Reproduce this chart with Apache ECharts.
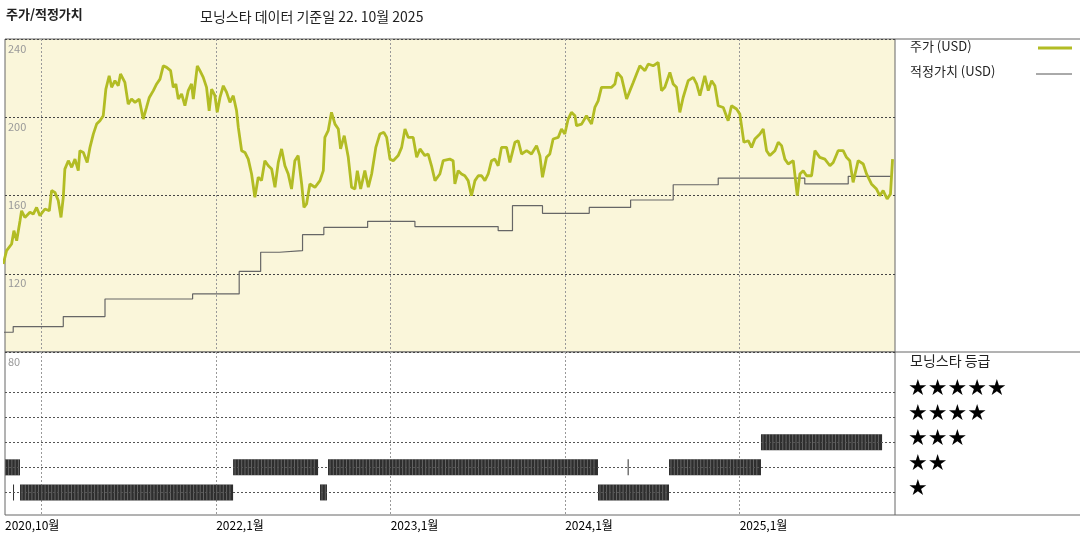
<!DOCTYPE html>
<html>
<head>
<meta charset="utf-8">
<script src="https://cdn.jsdelivr.net/npm/echarts@6/dist/echarts.min.js"></script>
<style>
	html, body { margin: 0; padding: 0; background: #fff; }
	#chart { width: 1080px; height: 540px; }
</style>
</head>
<body>
<div id="chart"></div>
<script>
// dates are decimal years
const xMin = 2020.79;
const xMax = 2025.89;
const yearTicks = [2021, 2022, 2023, 2024, 2025];
const yearLabels = [2020.79, 2021, 2022, 2023, 2024, 2025];

const price = [
	[2020.780,125.0],[2020.799,131.8],[2020.828,135.2],[2020.841,142.0],[2020.857,136.9],[2020.876,147.1],
	[2020.885,152.2],[2020.904,148.8],[2020.933,151.4],[2020.952,150.5],[2020.971,153.9],[2020.990,149.7],
	[2021.019,153.1],[2021.044,152.2],[2021.057,162.5],[2021.076,161.6],[2021.095,157.4],[2021.111,148.8],
	[2021.124,159.1],[2021.133,173.5],[2021.153,177.8],[2021.172,174.4],[2021.191,178.6],[2021.210,172.7],
	[2021.219,182.9],[2021.239,182.0],[2021.261,176.9],[2021.277,184.6],[2021.296,191.4],[2021.315,196.5],
	[2021.334,198.2],[2021.353,200.8],[2021.368,214.4],[2021.387,221.2],[2021.401,215.3],[2021.420,218.7],
	[2021.439,216.1],[2021.452,222.1],[2021.477,217.8],[2021.496,206.7],[2021.515,209.3],[2021.535,207.6],
	[2021.559,209.3],[2021.582,199.1],[2021.601,205.0],[2021.617,210.1],[2021.640,213.6],[2021.659,217.0],
	[2021.678,219.5],[2021.697,226.3],[2021.716,225.5],[2021.739,223.8],[2021.754,215.3],[2021.769,217.0],
	[2021.783,209.3],[2021.802,211.9],[2021.821,205.9],[2021.840,213.6],[2021.859,217.0],[2021.869,209.3],
	[2021.892,226.3],[2021.907,223.8],[2021.926,220.4],[2021.945,215.3],[2021.960,203.3],[2021.974,214.4],
	[2021.993,211.0],[2022.006,202.5],[2022.022,210.1],[2022.041,216.1],[2022.060,212.7],[2022.079,207.6],
	[2022.098,211.0],[2022.117,203.3],[2022.127,194.8],[2022.146,182.9],[2022.165,182.0],[2022.184,178.6],
	[2022.203,171.0],[2022.222,159.1],[2022.241,169.3],[2022.260,167.6],[2022.279,177.8],[2022.299,175.2],
	[2022.318,173.5],[2022.337,164.2],[2022.356,176.9],[2022.375,183.8],[2022.394,175.2],[2022.413,171.0],
	[2022.432,163.3],[2022.451,177.8],[2022.470,180.4],[2022.490,165.9],[2022.503,153.9],[2022.518,155.7],
	[2022.537,165.9],[2022.566,164.2],[2022.595,167.6],[2022.614,172.7],[2022.623,189.7],[2022.642,193.1],
	[2022.661,202.5],[2022.681,196.5],[2022.700,194.0],[2022.713,183.8],[2022.734,190.6],[2022.757,179.5],
	[2022.776,164.2],[2022.795,163.3],[2022.809,172.7],[2022.828,163.3],[2022.852,172.7],[2022.872,164.2],
	[2022.891,171.0],[2022.915,184.6],[2022.938,191.4],[2022.961,192.3],[2022.977,189.7],[2022.996,178.6],
	[2023.015,177.8],[2023.043,180.4],[2023.063,184.6],[2023.082,194.0],[2023.101,189.7],[2023.129,189.7],
	[2023.149,179.5],[2023.168,183.8],[2023.196,180.4],[2023.215,181.2],[2023.234,175.2],[2023.254,167.6],
	[2023.282,171.0],[2023.301,177.8],[2023.339,178.6],[2023.358,177.8],[2023.368,165.9],[2023.387,172.7],
	[2023.406,171.0],[2023.425,170.1],[2023.444,167.6],[2023.463,159.9],[2023.483,167.6],[2023.502,170.1],
	[2023.521,170.1],[2023.540,167.6],[2023.559,171.0],[2023.578,177.8],[2023.597,178.6],[2023.616,175.2],
	[2023.635,184.6],[2023.664,184.6],[2023.683,176.9],[2023.712,187.2],[2023.731,188.0],[2023.750,181.2],
	[2023.779,182.9],[2023.807,181.2],[2023.836,185.5],[2023.855,180.4],[2023.870,169.3],[2023.893,179.5],
	[2023.912,181.2],[2023.931,188.9],[2023.960,189.7],[2023.979,194.0],[2023.998,191.4],[2024.017,199.1],
	[2024.036,202.5],[2024.056,200.8],[2024.065,195.7],[2024.094,196.5],[2024.122,200.8],[2024.151,196.5],
	[2024.170,205.0],[2024.189,208.4],[2024.208,215.3],[2024.237,215.3],[2024.266,215.3],[2024.285,217.0],
	[2024.298,222.9],[2024.323,220.4],[2024.352,209.3],[2024.371,213.6],[2024.390,217.8],[2024.409,222.1],
	[2024.428,226.3],[2024.457,223.8],[2024.476,227.2],[2024.504,226.3],[2024.533,228.0],[2024.552,213.6],
	[2024.571,215.3],[2024.600,222.9],[2024.619,217.0],[2024.638,215.3],[2024.657,202.5],[2024.676,210.1],
	[2024.705,218.7],[2024.734,220.4],[2024.753,217.0],[2024.772,211.0],[2024.800,221.2],[2024.820,213.6],
	[2024.839,218.7],[2024.858,216.1],[2024.877,205.9],[2024.906,205.0],[2024.934,198.2],[2024.953,205.9],
	[2024.982,204.2],[2025.001,201.6],[2025.024,187.2],[2025.049,188.0],[2025.068,184.6],[2025.087,188.9],
	[2025.116,191.4],[2025.135,194.0],[2025.154,182.9],[2025.173,180.4],[2025.202,182.9],[2025.221,187.2],
	[2025.240,185.5],[2025.259,178.6],[2025.278,176.1],[2025.307,177.8],[2025.330,159.9],[2025.345,171.0],
	[2025.364,172.7],[2025.383,170.1],[2025.412,170.1],[2025.431,182.9],[2025.459,179.5],[2025.488,178.6],
	[2025.517,175.2],[2025.536,176.9],[2025.564,182.9],[2025.593,182.9],[2025.612,179.5],[2025.631,177.8],
	[2025.650,166.7],[2025.679,177.8],[2025.708,176.1],[2025.727,171.0],[2025.755,165.9],[2025.784,163.3],
	[2025.803,159.9],[2025.822,162.5],[2025.845,158.2],[2025.864,160.8],[2025.876,178.6]
];

// each point is the start of a fair value level
const fairValue = [
	[2020.761,90.1],[2020.837,93.0],[2021.124,98.1],[2021.363,107.1],[2021.865,109.7],[2022.132,121.2],
	[2022.255,131.0],[2022.362,131.8],[2022.495,140.0],[2022.617,143.7],[2022.868,146.8],[2023.139,144.1],
	[2023.616,142.0],[2023.698,154.8],[2023.870,150.9],[2024.138,153.9],[2024.375,157.7],[2024.619,165.5],
	[2024.877,168.9],[2025.373,165.9],[2025.622,169.8],[2025.870,169.8]
];

// [start, end, stars]
const ratings = [
	[2020.780,2020.876,2],[2020.836,2020.840,1],[2020.876,2022.097,1],[2022.097,2022.584,2],
	[2022.595,2022.635,1],[2022.641,2024.188,2],[2024.358,2024.362,2],[2024.188,2024.595,1],
	[2024.595,2025.122,2],[2025.122,2025.816,3]
];

const starLabels = ['★★★★★', '★★★★', '★★★', '★★', '★'];

const FONT = '"Noto Sans CJK KR", "Noto Sans", sans-serif';
const LEFT = 5, RIGHT = 895, TOP = 39, MID = 352, BOTTOM = 515;

const chart = echarts.init(document.getElementById('chart'), null, { renderer: 'canvas' });

const renderRating = function (params, api) {
	const p0 = api.coord([api.value(0), api.value(2)]);
	const p1 = api.coord([api.value(1), api.value(2)]);
	const w = Math.max(1, p1[0] - p0[0]);
	const h = 16;
	const children = [{
		type: 'rect',
		shape: { x: p0[0], y: p0[1] - h / 2, width: w, height: h },
		style: { fill: '#2e2e2e' }
	}];
	// light vertical streaks of the barcode look
	for (let x = p0[0] + 2; x < p0[0] + w - 1; x += 3.3) {
		children.push({
			type: 'line',
			shape: { x1: x, y1: p0[1] - h / 2, x2: x, y2: p0[1] + h / 2 },
			style: { stroke: 'rgba(200,200,200,0.6)', lineWidth: 0.6 }
		});
	}
	return { type: 'group', children: children };
};

const xAxisBase = {
	type: 'value',
	min: xMin,
	max: xMax,
	axisLine: { show: false },
	axisTick: { show: false, customValues: yearTicks },
	splitLine: { show: true, lineStyle: { color: '#999', type: [2, 2], width: 1 } }
};

const option = {
	animation: false,
	textStyle: { fontFamily: FONT },
	grid: [
		{ left: LEFT, width: RIGHT - LEFT, top: TOP, height: MID - TOP, show: true, backgroundColor: '#faf6da', borderColor: '#666', borderWidth: 1 },
		{ left: LEFT, width: RIGHT - LEFT, top: MID, height: BOTTOM - MID, show: true, backgroundColor: '#fff', borderColor: '#666', borderWidth: 1 }
	],
	xAxis: [
		Object.assign({}, xAxisBase, { gridIndex: 0, axisLabel: { show: false } }),
		Object.assign({}, xAxisBase, {
			gridIndex: 1,
			axisLabel: {
				show: true, customValues: yearLabels, align: 'left', margin: 4,
				showMinLabel: true, showMaxLabel: true, hideOverlap: false,
				color: '#000', fontSize: 12, fontFamily: FONT,
				formatter: v => v < 2021 ? '2020,10월' : Math.round(v) + ',1월'
			}
		})
	],
	yAxis: [
		{
			type: 'value', gridIndex: 0, min: 80, max: 240, interval: 40,
			axisLine: { show: false }, axisTick: { show: false },
			axisLabel: { inside: true, verticalAlign: 'top', margin: 3, color: '#999', fontSize: 11, padding: [4, 0, 0, 0] },
			splitLine: { lineStyle: { color: '#444', type: [2, 2] } }
		},
		{
			type: 'value', gridIndex: 1, min: 0.1, max: 6.6,
			axisLine: { show: false }, axisTick: { show: false },
			axisLabel: { show: false }, splitLine: { show: false }
		}
	],
	series: [
		{
			type: 'line', xAxisIndex: 0, yAxisIndex: 0, data: fairValue, step: 'end',
			symbol: 'none', lineStyle: { color: '#666', width: 1.2 }, z: 3
		},
		{
			type: 'line', xAxisIndex: 0, yAxisIndex: 0, data: price,
			symbol: 'none', lineStyle: { color: '#b2bc24', width: 2.8 }, z: 4
		},
		{
			type: 'custom', xAxisIndex: 1, yAxisIndex: 1, data: ratings,
			renderItem: renderRating, clip: true, z: 4,
			markLine: {
				silent: true, symbol: 'none', label: { show: false },
				lineStyle: { color: '#555', type: [2, 2], width: 1 },
				data: [1, 2, 3, 4, 5].map(v => ({ yAxis: v }))
			}
		}
	],
	graphic: [
		{ type: 'text', left: 6, top: 8, style: { text: '주가/적정가치', font: 'bold 13px ' + FONT, fill: '#222' } },
		{ type: 'text', left: 200, top: 10, style: { text: '모닝스타 데이터 기준일 22. 10월 2025', font: '14px ' + FONT, fill: '#222' } },
		{ type: 'line', shape: { x1: RIGHT, y1: TOP, x2: 1080, y2: TOP }, style: { stroke: '#666', lineWidth: 1 } },
		{ type: 'line', shape: { x1: RIGHT, y1: MID, x2: 1080, y2: MID }, style: { stroke: '#666', lineWidth: 1 } },
		{ type: 'line', shape: { x1: RIGHT, y1: BOTTOM, x2: 1080, y2: BOTTOM }, style: { stroke: '#666', lineWidth: 1 } },
		{ type: 'text', left: 910, top: 40, style: { text: '주가 (USD)', font: '13px ' + FONT, fill: '#222' } },
		{ type: 'line', shape: { x1: 1038, y1: 48, x2: 1072, y2: 48 }, style: { stroke: '#b2bc24', lineWidth: 3 } },
		{ type: 'text', left: 910, top: 65, style: { text: '적정가치 (USD)', font: '13px ' + FONT, fill: '#222' } },
		{ type: 'line', shape: { x1: 1036, y1: 74, x2: 1072, y2: 74 }, style: { stroke: '#555', lineWidth: 1 } },
		{ type: 'text', left: 910, top: 354, style: { text: '모닝스타 등급', font: '14px ' + FONT, fill: '#222' } }
	].concat(starLabels.map((s, i) => ({
		type: 'text', left: 908, top: 378 + i * 25,
		style: { text: s, font: '22px "DejaVu Sans", sans-serif', fill: '#000' }
	})))
};

chart.setOption(option);
</script>
</body>
</html>
